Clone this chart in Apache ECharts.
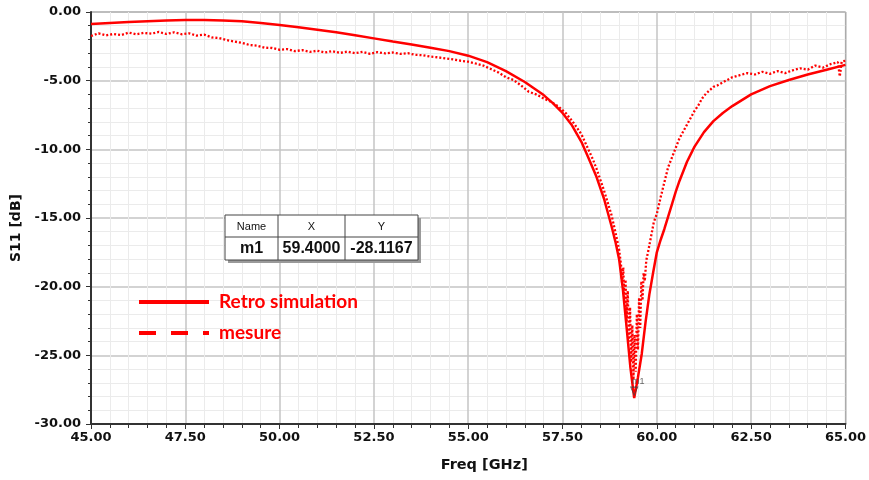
<!DOCTYPE html>
<html><head><meta charset="utf-8">
<script src="https://cdn.jsdelivr.net/npm/echarts@6/dist/echarts.min.js"></script>
<style>html,body{margin:0;padding:0;background:#fff}#c{width:869px;height:480px}</style>
</head><body><div id="c"></div>
<script>
// ---- data ----
const simulation = [
 [45.0,-0.88],[45.5,-0.80],[46.0,-0.73],[46.5,-0.67],[47.0,-0.62],[47.5,-0.59],[48.0,-0.58],[48.5,-0.61],
 [49.0,-0.68],[49.5,-0.80],[50.0,-0.95],[50.5,-1.11],[51.0,-1.29],[51.5,-1.48],[52.0,-1.69],[52.5,-1.92],
 [53.0,-2.15],[53.5,-2.37],[54.0,-2.60],[54.5,-2.85],[55.0,-3.18],[55.5,-3.65],[56.0,-4.30],[56.5,-5.10],
 [57.0,-6.05],[57.25,-6.65],[57.5,-7.35],[57.75,-8.25],[58.0,-9.45],[58.2,-10.7],[58.4,-12.0],[58.6,-13.6],
 [58.8,-15.6],[58.9,-16.7],[59.0,-18.0],[59.1,-20.2],[59.2,-23.0],[59.3,-25.9],[59.4,-28.1167],[59.5,-26.6],
 [59.6,-24.9],[59.7,-22.6],[59.8,-20.6],[59.9,-19.0],[60.0,-17.5],[60.1,-16.6],[60.2,-15.8],[60.3,-14.9],
 [60.4,-14.0],[60.5,-13.1],[60.6,-12.3],[60.8,-10.9],[61.0,-9.8],[61.25,-8.75],[61.5,-7.95],[61.75,-7.35],
 [62.0,-6.85],[62.5,-6.0],[63.0,-5.4],[63.5,-4.95],[64.0,-4.55],[64.5,-4.2],[65.0,-3.85]
];
const mesure = [
 [45.0,-1.75],[45.2,-1.55],[45.4,-1.70],[45.6,-1.60],[45.8,-1.68],[46.0,-1.50],[46.2,-1.62],[46.4,-1.52],
 [46.6,-1.58],[46.8,-1.45],[47.0,-1.60],[47.2,-1.48],[47.4,-1.62],[47.6,-1.55],[47.8,-1.72],[48.0,-1.65],
 [48.2,-1.85],[48.4,-1.90],[48.6,-2.05],[48.8,-2.15],[49.0,-2.25],[49.2,-2.40],[49.4,-2.45],[49.6,-2.60],
 [49.8,-2.62],[50.0,-2.75],[50.2,-2.70],[50.4,-2.85],[50.6,-2.78],[50.8,-2.90],[51.0,-2.82],[51.2,-2.95],
 [51.4,-2.85],[51.6,-2.98],[51.8,-2.88],[52.0,-3.00],[52.2,-2.90],[52.4,-3.05],[52.6,-2.92],[52.8,-3.02],
 [53.0,-2.95],[53.2,-3.05],[53.4,-3.00],[53.6,-3.12],[53.8,-3.15],[54.0,-3.25],[54.2,-3.30],[54.4,-3.38],
 [54.6,-3.45],[54.8,-3.55],[55.0,-3.62],[55.2,-3.75],[55.4,-3.90],[55.6,-4.15],[55.8,-4.40],[56.0,-4.75],
 [56.2,-4.95],[56.4,-5.35],[56.6,-5.80],[56.8,-6.00],[57.0,-6.30],[57.2,-6.55],[57.4,-6.90],[57.6,-7.40],
 [57.8,-8.10],[58.0,-8.90],[58.1,-9.50],[58.2,-10.1],[58.3,-10.7],[58.4,-11.4],[58.5,-12.2],[58.6,-13.0],
 [58.7,-13.9],[58.8,-14.8],[58.9,-16.0],[59.0,-17.3],[59.05,-18.4],[59.08,-19.8],[59.11,-18.6],[59.14,-21.2],
 [59.17,-19.5],[59.20,-22.5],[59.23,-20.3],[59.26,-24.0],[59.29,-21.5],[59.32,-25.5],[59.35,-22.8],[59.38,-26.8],
 [59.41,-23.5],[59.44,-26.2],[59.47,-22.0],[59.50,-24.6],[59.53,-20.8],[59.56,-23.0],[59.59,-19.6],[59.62,-21.0],
 [59.65,-19.0],[59.68,-19.6],[59.72,-18.1],[59.78,-17.3],[59.85,-16.3],[59.92,-15.3],[60.0,-14.7],[60.1,-13.5],
 [60.2,-12.4],[60.3,-11.3],[60.4,-10.6],[60.5,-9.9],[60.6,-9.2],[60.7,-8.7],[60.8,-8.2],[60.9,-7.7],
 [61.0,-7.2],[61.1,-6.8],[61.2,-6.3],[61.3,-5.95],[61.4,-5.7],[61.5,-5.45],[61.6,-5.35],[61.8,-5.05],
 [62.0,-4.75],[62.2,-4.60],[62.4,-4.45],[62.6,-4.55],[62.8,-4.35],[63.0,-4.50],[63.2,-4.30],[63.4,-4.45],
 [63.6,-4.25],[63.8,-4.10],[64.0,-4.20],[64.2,-3.90],[64.4,-4.05],[64.6,-3.80],[64.8,-3.65],[64.85,-4.70],
 [64.9,-3.60],[65.0,-3.55]
];
const markerName = 'm1';
const markerPoint = [59.4, -28.1167];
const tableHeaders = ['Name', 'X', 'Y'];
const seriesNames = ['Retro simulation', 'mesure'];
const xRange = [45, 65], xStep = 2.5;
const yRange = [-30, 0], yStep = 5;

// ---- chart ----
const chart = echarts.init(document.getElementById('c'), null, {renderer: 'canvas'});
const tickFont = {fontFamily: 'DejaVu Sans', fontWeight: 'bold', fontSize: 13, color: '#111'};
const tableRow = [markerName, markerPoint[0].toFixed(4), markerPoint[1].toFixed(4)];
const colX = [225, 278, 345, 418];
function cellTexts(row, y, font) {
  return row.map((t, i) => ({
    type: 'text', z: 103, x: (colX[i] + colX[i + 1]) / 2, y: y,
    style: {text: t, textAlign: 'center', textVerticalAlign: 'middle', font: font, fill: '#111'}
  }));
}
const transparent = 'rgba(0,0,0,0)';
chart.setOption({
  animation: false,
  grid: {left: 91, right: 23, top: 12, bottom: 56, show: true, borderColor: '#555', borderWidth: 1, backgroundColor: '#fff'},
  legend: {
    data: [
      {name: seriesNames[0], lineStyle: {width: 4}},
      {name: seriesNames[1], lineStyle: {width: 4, type: [17, 15]}}
    ],
    orient: 'vertical', left: 137, top: 292, padding: 0, itemWidth: 70, itemHeight: 14, itemGap: 11,
    selectedMode: false,
    itemStyle: {color: transparent, borderColor: transparent, borderWidth: 0},
    textStyle: {color: '#ff0000', fontWeight: 'bold', fontSize: 19, fontFamily: 'Lato', lineHeight: 20, padding: [0, 0, 0, 5]}
  },
  xAxis: {
    type: 'value', min: xRange[0], max: xRange[1], interval: xStep,
    name: 'Freq [GHz]', nameLocation: 'middle', nameGap: 34,
    nameTextStyle: {fontFamily: 'DejaVu Sans', fontWeight: 'bold', fontSize: 14.5, color: '#111', padding: [0, 0, 0, 32]},
    axisLine: {show: true, onZero: false, lineStyle: {color: '#333', width: 2}},
    axisTick: {show: true, length: 5, lineStyle: {color: '#333'}},
    minorTick: {show: true, splitNumber: 5, length: 4, lineStyle: {color: '#333'}},
    axisLabel: Object.assign({formatter: v => v.toFixed(2), margin: 7}, tickFont),
    splitLine: {show: true, lineStyle: {color: '#c4c4c4', width: 1.5}},
    minorSplitLine: {show: true, lineStyle: {color: '#ebebeb', width: 1}}
  },
  yAxis: {
    type: 'value', min: yRange[0], max: yRange[1], interval: yStep,
    name: 'S11 [dB]', nameLocation: 'middle', nameGap: 63, nameRotate: 90,
    nameTextStyle: {fontFamily: 'DejaVu Sans', fontWeight: 'bold', fontSize: 14, color: '#111', padding: [0, 20, 0, 0]},
    axisLine: {show: true, onZero: false, lineStyle: {color: '#333', width: 2}},
    axisTick: {show: true, length: 5, lineStyle: {color: '#333'}},
    minorTick: {show: true, splitNumber: 5, length: 3, lineStyle: {color: '#333'}},
    axisLabel: Object.assign({formatter: v => v.toFixed(2), margin: 10}, tickFont),
    splitLine: {show: true, lineStyle: {color: '#c4c4c4', width: 1.5}},
    minorSplitLine: {show: true, lineStyle: {color: '#ebebeb', width: 1}}
  },
  series: [
    {name: seriesNames[1], type: 'line', data: mesure, symbol: 'none', z: 2,
     lineStyle: {color: '#ff0000', width: 2.3, type: [2, 2]}, itemStyle: {color: '#ff0000'}},
    {name: seriesNames[0], type: 'line', data: simulation, symbol: 'none', z: 3,
     lineStyle: {color: '#ff0000', width: 2.5}, itemStyle: {color: '#ff0000'}},
    {name: markerName, type: 'scatter', data: [markerPoint], symbol: 'triangle', symbolRotate: 180,
     symbolSize: [7, 8], symbolOffset: [0, -7], z: 5,
     itemStyle: {color: 'rgba(255,255,255,0)', borderColor: '#444', borderWidth: 1},
     label: {show: true, formatter: markerName, position: 'top', offset: [4, 4], fontSize: 9, color: '#444',
             fontFamily: 'Liberation Sans'}}
  ],
  graphic: [
    {type: 'rect', z: 100, shape: {x: 228, y: 218, width: 193, height: 45}, style: {fill: '#9a9a9a'}},
    {type: 'rect', z: 101, shape: {x: 225, y: 215, width: 193, height: 45}, style: {fill: '#fff', stroke: '#444', lineWidth: 1}},
    {type: 'line', z: 102, shape: {x1: 225, y1: 237, x2: 418, y2: 237}, style: {stroke: '#444', lineWidth: 1}},
    {type: 'line', z: 102, shape: {x1: 278, y1: 215, x2: 278, y2: 260}, style: {stroke: '#444', lineWidth: 1}},
    {type: 'line', z: 102, shape: {x1: 345, y1: 215, x2: 345, y2: 260}, style: {stroke: '#444', lineWidth: 1}}
  ].concat(cellTexts(tableHeaders, 227, '11px "Liberation Sans"'))
   .concat(cellTexts(tableRow, 249, 'bold 16px "Liberation Sans"'))
});
</script></body></html>
